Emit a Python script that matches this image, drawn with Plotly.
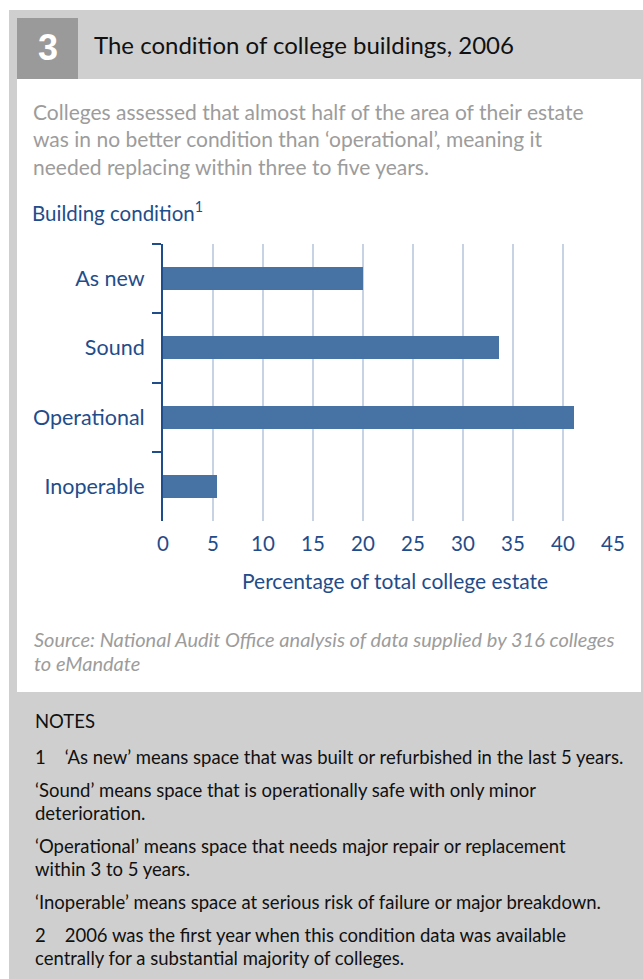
import plotly.graph_objects as go

# Building condition shares (% of total college estate), 2006
categories = ["As new", "Sound", "Operational", "Inoperable"]
shares = [20.0, 33.6, 41.1, 5.4]
x_ticks = [0, 5, 10, 15, 20, 25, 30, 35, 40, 45]

title_text = "The condition of college buildings, 2006"
figure_number = "3"
subtitle_lines = [
    "Colleges assessed that almost half of the area of their estate",
    "was in no better condition than \u2018operational\u2019, meaning it",
    "needed replacing within three to five years.",
]
y_axis_label = "Building condition<sup>1</sup>"
x_axis_label = "Percentage of total college estate"
source_lines = [
    "Source: National Audit Office analysis of data supplied by 316 colleges",
    "to eMandate",
]
notes_heading = "NOTES"
notes_lines = [
    "1\u00a0\u00a0\u00a0\u00a0\u2018As new\u2019 means space that was built or refurbished in the last 5 years.",
    "\u2018Sound\u2019 means space that is operationally safe with only minor",
    "deterioration.",
    "\u2018Operational\u2019 means space that needs major repair or replacement",
    "within 3 to 5 years.",
    "\u2018Inoperable\u2019 means space at serious risk of failure or major breakdown.",
    "2\u00a0\u00a0\u00a0\u00a02006 was the first year when this condition data was available",
    "centrally for a substantial majority of colleges.",
]

# Page geometry (pixels)
W, H = 643, 979
PL, PR, PT, PB = 163, 613, 244, 521  # plot area edges

DARK_BLUE = "#1f4d8b"
BAR_BLUE = "#4673a4"
GRID = "#c7d3e2"
PANEL_GREY = "#cfcfcf"
BOX_GREY = "#9a9a9a"
TEXT_GREY = "#9c9c9c"
FONT = "Lato"


def fx(px):
    return (px - PL) / (PR - PL)


def fy(py):
    return (PB - py) / (PB - PT)


def rect(x0, y0, x1, y1, color):
    return dict(type="rect", xref="paper", yref="paper",
                x0=fx(x0), x1=fx(x1), y0=fy(y0), y1=fy(y1),
                fillcolor=color, line=dict(width=0), layer="below")


def label(text, x, y, size, color, xanchor="left", italic=False, bold=False, family=FONT):
    return dict(text=text, x=fx(x), y=fy(y), xref="paper", yref="paper",
                xanchor=xanchor, yanchor="middle", showarrow=False,
                font=dict(family=family, size=size, color=color,
                          style="italic" if italic else "normal",
                          weight="bold" if bold else "normal"))


fig = go.Figure(go.Bar(
    x=shares, y=categories, orientation="h", width=0.33,
    marker=dict(color=BAR_BLUE, line=dict(width=0)),
    hoverinfo="skip",
))

shapes = [
    rect(9, 10, 643, 979, PANEL_GREY),
    rect(17, 18, 78, 79, BOX_GREY),
    rect(17, 79, 641, 692, "white"),
]

annotations = [
    label(figure_number, 47.5, 47, 36, "white", xanchor="center", bold=True,
          family="Liberation Sans"),
    label(title_text, 92, 44, 24, "#111111"),
]
for i, line in enumerate(subtitle_lines):
    annotations.append(label(line, 31, 111 + 27.5 * i, 21, TEXT_GREY))
annotations.append(label(y_axis_label, 30, 212, 20.5, DARK_BLUE))
annotations.append(label(x_axis_label, 395, 580, 21, DARK_BLUE, xanchor="center"))
for i, line in enumerate(source_lines):
    annotations.append(label(line, 32, 639 + 24 * i, 20, TEXT_GREY, italic=True))

annotations.append(label(notes_heading, 33, 721, 18.5, "#111111"))
note_y = [757, 790, 813, 846, 869, 902, 935, 958]
for line, y in zip(notes_lines, note_y):
    annotations.append(label(line, 33, y, 18.5, "#111111"))

fig.update_layout(
    width=W, height=H,
    margin=dict(l=PL, r=W - PR, t=PT, b=H - PB, pad=0),
    paper_bgcolor="white",
    plot_bgcolor="rgba(0,0,0,0)",
    showlegend=False,
    bargap=0,
    shapes=shapes,
    annotations=annotations,
    font=dict(family=FONT, color=DARK_BLUE),
    xaxis=dict(
        range=[0, 45], tickvals=x_ticks, ticktext=[str(v) for v in x_ticks],
        showgrid=True, gridcolor=GRID, gridwidth=2,
        zeroline=False, showline=False, ticks="",
        tickfont=dict(family=FONT, size=20.5, color=DARK_BLUE),
        ticklabelstandoff=8, fixedrange=True,
    ),
    yaxis=dict(
        categoryorder="array", categoryarray=categories,
        range=[3.5, -0.5],
        showgrid=False, zeroline=False,
        showline=True, linecolor=DARK_BLUE, linewidth=2,
        ticks="outside", tickson="boundaries", ticklen=9,
        tickwidth=2, tickcolor=DARK_BLUE,
        tickfont=dict(family=FONT, size=21.5, color=DARK_BLUE),
        ticklabelstandoff=12, fixedrange=True,
    ),
)

fig.write_html("out.html")
